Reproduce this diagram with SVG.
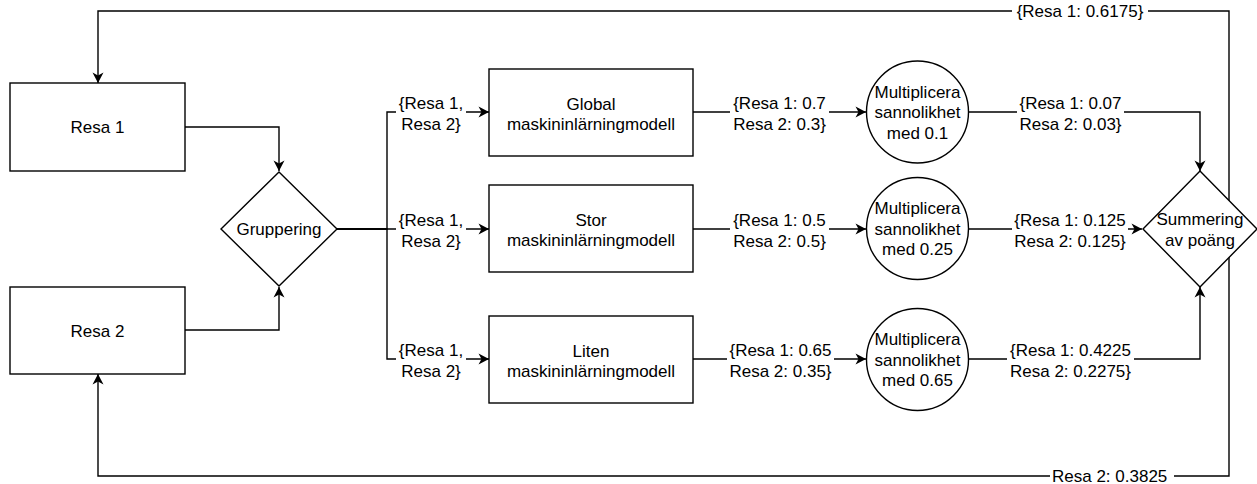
<svg xmlns="http://www.w3.org/2000/svg" width="1257" height="484" viewBox="0 0 1257 484">
<defs>
<marker id="arr" markerUnits="userSpaceOnUse" viewBox="-11 -6 12 12" refX="0" refY="0" markerWidth="12" markerHeight="12" orient="auto">
<path d="M0,0 L-10.5,-5.5 L-7.5,0 L-10.5,5.5 Z" fill="#000"/>
</marker>
<style>
.n{fill:#fff;stroke:#000;stroke-width:1.4}
.e{fill:none;stroke:#000;stroke-width:1.4}
.a{marker-end:url(#arr)}
.t{font-family:"Liberation Sans",Arial,Helvetica,sans-serif;font-size:17px;fill:#000;text-anchor:middle}
.bg{fill:#fff;stroke:none}
</style>
</defs>
<rect width="1257" height="484" fill="#fff"/>
<g id="connectors">
<path class="e a" d="M1229,229 V11 H98 V83"/>
<path class="e a" d="M1229,229 V476 H98 V374"/>
<path class="e a" d="M185,127 H279 V171"/>
<path class="e a" d="M185,330 H279 V287"/>
<path class="e a" d="M337,229 H387 V112 H489"/>
<path class="e a" d="M337,229 H489"/>
<path class="e a" d="M337,229 H387 V359 H489"/>
<path class="e a" d="M693,112 H866"/>
<path class="e a" d="M693,229 H866"/>
<path class="e a" d="M693,359 H866"/>
<path class="e a" d="M968,112 H1200 V171"/>
<path class="e a" d="M968,229 H1142"/>
<path class="e a" d="M968,359 H1200 V287"/>
<g id="labels">
<rect class="bg" x="1012" y="2" width="136" height="20"/>
<text class="t" x="1080" y="17">{Resa 1: 0.6175}</text>
<rect class="bg" x="1050" y="467" width="124" height="17"/>
<text class="t" x="1052" y="482" style="text-anchor:start">Resa 2: 0.3825</text>
<rect class="bg" x="396" y="95" width="70" height="40"/>
<text class="t" x="431" y="109">{Resa 1,</text><text class="t" x="431" y="129.5">Resa 2}</text>
<rect class="bg" x="396" y="212" width="70" height="40"/>
<text class="t" x="431" y="226">{Resa 1,</text><text class="t" x="431" y="246.5">Resa 2}</text>
<rect class="bg" x="396" y="342" width="70" height="40"/>
<text class="t" x="431" y="356">{Resa 1,</text><text class="t" x="431" y="376.5">Resa 2}</text>
<rect class="bg" x="730" y="95" width="99" height="40"/>
<text class="t" x="779.5" y="109">{Resa 1: 0.7</text><text class="t" x="779.5" y="129.5">Resa 2: 0.3}</text>
<rect class="bg" x="730" y="212" width="99" height="40"/>
<text class="t" x="779.5" y="226">{Resa 1: 0.5</text><text class="t" x="779.5" y="246.5">Resa 2: 0.5}</text>
<rect class="bg" x="727" y="342" width="107" height="40"/>
<text class="t" x="780.5" y="356">{Resa 1: 0.65</text><text class="t" x="780.5" y="376.5">Resa 2: 0.35}</text>
<rect class="bg" x="1017" y="95" width="107" height="40"/>
<text class="t" x="1070.5" y="109">{Resa 1: 0.07</text><text class="t" x="1070.5" y="129.5">Resa 2: 0.03}</text>
<rect class="bg" x="1012" y="212" width="116" height="40"/>
<text class="t" x="1070" y="226">{Resa 1: 0.125</text><text class="t" x="1070" y="246.5">Resa 2: 0.125}</text>
<rect class="bg" x="1007" y="342" width="127" height="40"/>
<text class="t" x="1070.5" y="356">{Resa 1: 0.4225</text><text class="t" x="1070.5" y="376.5">Resa 2: 0.2275}</text>
</g>
</g>
<g id="resa1">
<rect class="n" x="10" y="83" width="175" height="88"/>
<text class="t" x="97.5" y="133">Resa 1</text>
</g>
<g id="resa2">
<rect class="n" x="10" y="287" width="175" height="87"/>
<text class="t" x="97.5" y="336.5">Resa 2</text>
</g>
<g id="gruppering">
<path class="n" d="M279,172 L337,229 L279,286 L221,229 Z"/>
<text class="t" x="279" y="235">Gruppering</text>
</g>
<g id="global">
<rect class="n" x="489" y="69" width="204" height="87"/>
<text class="t" x="591" y="109.5">Global</text>
<text class="t" x="591" y="130">maskininlärningmodell</text>
</g>
<g id="stor">
<rect class="n" x="489" y="185" width="204" height="87"/>
<text class="t" x="591" y="225.5">Stor</text>
<text class="t" x="591" y="246">maskininlärningmodell</text>
</g>
<g id="liten">
<rect class="n" x="489" y="316" width="204" height="87"/>
<text class="t" x="591" y="356.5">Liten</text>
<text class="t" x="591" y="377">maskininlärningmodell</text>
</g>
<g id="mult1">
<circle class="n" cx="917.5" cy="112" r="51"/>
<text class="t" x="917.5" y="97.5">Multiplicera</text>
<text class="t" x="917.5" y="118">sannolikhet</text>
<text class="t" x="917.5" y="138.5">med 0.1</text>
</g>
<g id="mult2">
<circle class="n" cx="917.5" cy="228.5" r="51"/>
<text class="t" x="917.5" y="214">Multiplicera</text>
<text class="t" x="917.5" y="234.5">sannolikhet</text>
<text class="t" x="917.5" y="255">med 0.25</text>
</g>
<g id="mult3">
<circle class="n" cx="917.5" cy="359.5" r="51"/>
<text class="t" x="917.5" y="345">Multiplicera</text>
<text class="t" x="917.5" y="365.5">sannolikhet</text>
<text class="t" x="917.5" y="386">med 0.65</text>
</g>
<g id="summering">
<path class="n" d="M1200,171 L1257,229 L1200,287 L1143,229 Z"/>
<text class="t" x="1200" y="225">Summering</text>
<text class="t" x="1200" y="245.5">av poäng</text>
</g>
</svg>
